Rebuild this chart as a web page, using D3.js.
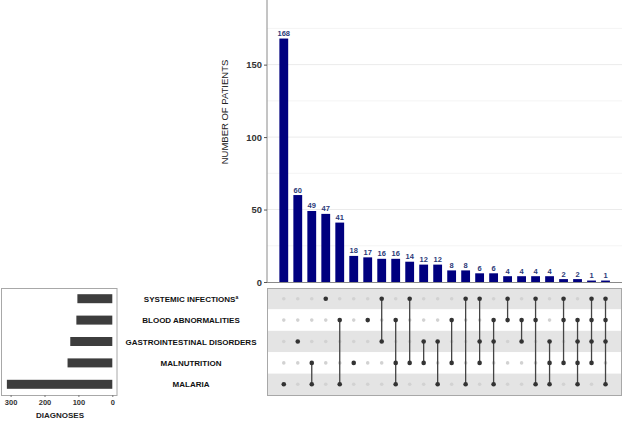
<!DOCTYPE html>
<html>
<head>
<meta charset="utf-8">
<script src="https://cdn.jsdelivr.net/npm/d3@7"></script>
<style>
  body { margin: 0; background: #fff; }
  svg { display: block; font-family: "Liberation Sans", Arial, sans-serif; }
</style>
</head>
<body>
<svg id="ch" width="623" height="424"></svg>
<script>
// UpSet plot of diagnoses

const sets = ["SYSTEMIC INFECTIONS", "BLOOD ABNORMALITIES", "GASTROINTESTINAL DISORDERS", "MALNUTRITION", "MALARIA"];
const setSizes = [103, 106, 124, 132, 311];

const counts = [168, 60, 49, 47, 41, 18, 17, 16, 16, 14, 12, 12, 8, 8, 6, 6, 4, 4, 4, 4, 2, 2, 1, 1];
// set indices for each intersection (0 = systemic ... 4 = malaria)
const combos = [
  [4], [2], [3, 4], [0], [1, 4], [3], [1], [0, 2],
  [1, 3, 4], [0, 3], [2, 3], [2, 4], [1, 3], [0, 4], [0, 2, 3], [1, 2, 4],
  [0, 1], [1, 2], [0, 1, 4], [2, 3, 4], [0, 1, 3], [1, 2, 3, 4], [0, 1, 2, 3], [0, 1, 2, 4]
];

const yTicks = [0, 50, 100, 150];
const gridTicks = [25, 50, 75, 100, 125, 150, 175];
const setTicks = [0, 100, 200, 300];

const svg = d3.select("#ch");

/* Dimensions */
const plotLeft = 267, plotRight = 622, plotTop = 0, plotBottom = 282;
const matTop = 288, matBottom = 395;

const x = d3.scaleBand()
  .domain(d3.range(counts.length))
  .range([274.2, 615.1])
  .padding(0.37);

const y = d3.scaleLinear()
  .domain([0, 194.6])
  .range([plotBottom, plotTop]);

const rowY = d3.scaleBand()
  .domain(d3.range(sets.length))
  .range([matTop, matBottom]);

const xs = d3.scaleLinear()
  .domain([0, 300])
  .range([112.3, 10.6]);

/* Grid */
svg.append("g")
  .selectAll("line")
  .data(gridTicks)
  .enter()
  .append("line")
  .attr("x1", plotLeft)
  .attr("x2", plotRight)
  .attr("y1", d => y(d))
  .attr("y2", d => y(d))
  .style("stroke", d => d % 50 === 0 ? "#ebebeb" : "#f4f4f4")
  .style("stroke-width", 1);

/* Intersection bars */
svg.append("g")
  .selectAll("rect")
  .data(counts)
  .enter()
  .append("rect")
  .attr("x", (d, i) => x(i))
  .attr("y", d => y(d))
  .attr("width", x.bandwidth())
  .attr("height", d => plotBottom - y(d))
  .style("fill", "#00007f");

svg.append("g")
  .selectAll("text")
  .data(counts)
  .enter()
  .append("text")
  .attr("x", (d, i) => x(i) + x.bandwidth() / 2)
  .attr("y", d => y(d) - 2.5)
  .attr("text-anchor", "middle")
  .style("font-size", "7.5px")
  .style("font-weight", "bold")
  .style("fill", "#2b3a78")
  .text(d => d);

/* Y axis */
const yAxis = svg.append("g")
  .attr("transform", `translate(${plotLeft},0)`)
  .call(d3.axisLeft(y).tickValues(yTicks).tickSize(3).tickPadding(2));
yAxis.select(".domain").attr("d", `M0,${plotTop}V${plotBottom}`).style("stroke", "#8a8a8a");
yAxis.selectAll(".tick line").style("stroke", "#555");
yAxis.selectAll("text")
  .style("font-size", "9.4px")
  .style("font-weight", "bold")
  .style("fill", "#333")
  .style("font-family", "Liberation Sans, Arial, sans-serif");

svg.append("line")
  .attr("x1", plotLeft)
  .attr("x2", plotRight)
  .attr("y1", plotBottom + 0.5)
  .attr("y2", plotBottom + 0.5)
  .style("stroke", "#8a8a8a");

svg.append("text")
  .attr("transform", "translate(228,112) rotate(-90)")
  .attr("text-anchor", "middle")
  .style("font-size", "9.5px")
  .style("fill", "#222")
  .text("NUMBER OF PATIENTS");

/* Matrix */
const mat = svg.append("g");

mat.selectAll("rect.stripe")
  .data(sets)
  .enter()
  .append("rect")
  .attr("class", "stripe")
  .attr("x", plotLeft)
  .attr("y", (d, i) => rowY(i))
  .attr("width", plotRight - plotLeft)
  .attr("height", rowY.bandwidth())
  .style("fill", (d, i) => i % 2 === 0 ? "#e4e4e4" : "#ffffff");

mat.append("rect")
  .attr("x", plotLeft + 0.5)
  .attr("y", matTop + 0.5)
  .attr("width", plotRight - plotLeft - 1)
  .attr("height", matBottom - matTop)
  .style("fill", "none")
  .style("stroke", "#a8a8a8");

const cy = i => rowY(i) + rowY.bandwidth() / 2;
const cx = i => x(i) + x.bandwidth() / 2;

// inactive dots
counts.forEach((c, j) => {
  sets.forEach((s, i) => {
    if (!combos[j].includes(i)) {
      mat.append("circle")
        .attr("cx", cx(j))
        .attr("cy", cy(i))
        .attr("r", 1.8)
        .style("fill", "#d2d2d2");
    }
  });
});

// connecting lines
mat.selectAll("line.link")
  .data(combos)
  .enter()
  .append("line")
  .attr("class", "link")
  .attr("x1", (d, j) => cx(j))
  .attr("x2", (d, j) => cx(j))
  .attr("y1", d => cy(d3.min(d)))
  .attr("y2", d => cy(d3.max(d)))
  .style("stroke", "#444")
  .style("stroke-width", 1.3);

// active dots
combos.forEach((d, j) => {
  d.forEach(i => {
    mat.append("circle")
      .attr("cx", cx(j))
      .attr("cy", cy(i))
      .attr("r", 2.3)
      .style("fill", "#333");
  });
});

/* Set labels */
const labels = svg.append("g")
  .selectAll("text")
  .data(sets)
  .enter()
  .append("text")
  .attr("x", 191)
  .attr("y", (d, i) => cy(i) + 3)
  .attr("text-anchor", "middle")
  .style("font-size", "8px")
  .style("font-weight", "bold")
  .style("fill", "#111")
  .text(d => d);

labels.filter((d, i) => i === 0)
  .append("tspan")
  .attr("dy", -3)
  .style("font-size", "5px")
  .text("a");

/* Set size bars */
svg.append("rect")
  .attr("x", 1.5)
  .attr("y", matTop + 0.5)
  .attr("width", 115.5)
  .attr("height", matBottom - matTop)
  .style("fill", "none")
  .style("stroke", "#a8a8a8");

svg.append("g")
  .selectAll("rect")
  .data(setSizes)
  .enter()
  .append("rect")
  .attr("x", d => xs(d))
  .attr("y", (d, i) => cy(i) - 4.5)
  .attr("width", d => xs(0) - xs(d))
  .attr("height", 9)
  .style("fill", "#3d3d3d");

const sAxis = svg.append("g")
  .attr("transform", `translate(0,${matBottom})`)
  .call(d3.axisBottom(xs).tickValues(setTicks).tickSize(2).tickPadding(3));
sAxis.select(".domain").remove();
sAxis.selectAll(".tick line").style("stroke", "#777");
sAxis.selectAll("text")
  .style("font-size", "7.5px")
  .style("font-weight", "bold")
  .style("fill", "#333")
  .style("font-family", "Liberation Sans, Arial, sans-serif");

svg.append("text")
  .attr("x", 60)
  .attr("y", 418)
  .attr("text-anchor", "middle")
  .style("font-size", "8px")
  .style("font-weight", "bold")
  .style("fill", "#222")
  .text("DIAGNOSES");
</script>
</body>
</html>
